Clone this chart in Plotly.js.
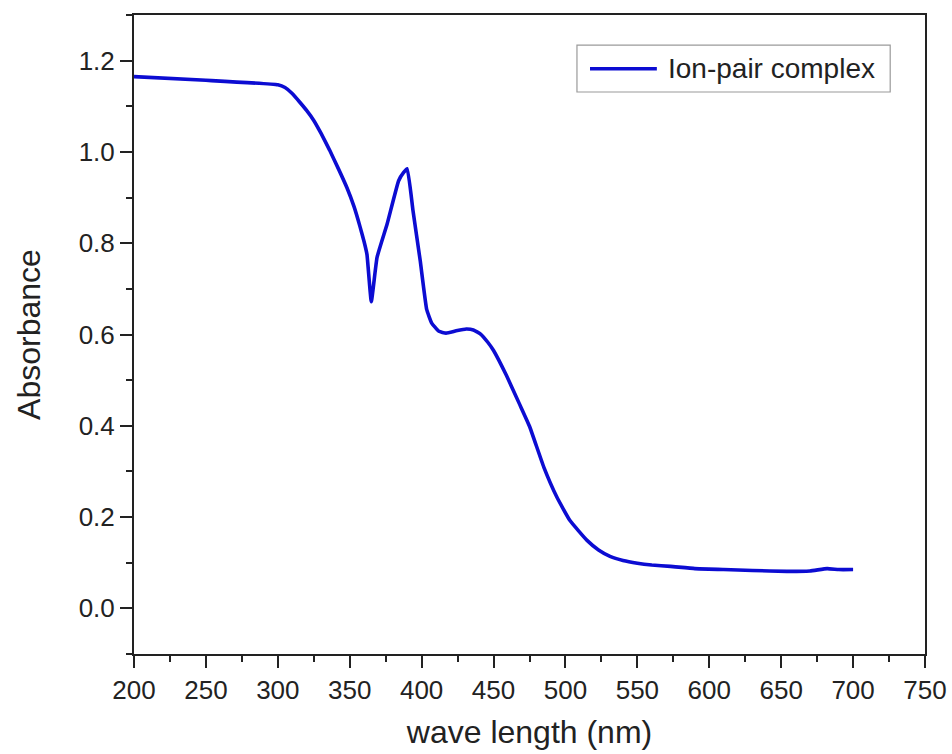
<!DOCTYPE html>
<html>
<head>
<meta charset="utf-8">
<script src="https://cdn.plot.ly/plotly-3.0.1.min.js"></script>
<style>
  html, body { margin: 0; padding: 0; background: #fff; }
  #chart { width: 952px; height: 754px; }
</style>
</head>
<body>
<div id="chart"></div>
<script>
// UV-Vis absorption spectrum of the ion-pair complex
const seriesName = 'Ion-pair complex';

const wavelength = [200, 250, 300, 305, 310, 315, 320, 325, 330, 336, 342, 348, 353,
  357, 360, 362, 365, 369, 376, 384, 387.5, 390, 394, 399, 403.5, 407, 412, 417,
  424, 431, 436, 441, 446, 450, 459, 468, 475, 485, 494, 503, 515, 523, 531, 540,
  550, 560, 573, 590, 610, 630, 654, 670, 682, 690, 700];

const absorbance = [1.165, 1.157, 1.147, 1.141, 1.128, 1.110, 1.091, 1.069, 1.041,
  1.004, 0.964, 0.922, 0.880, 0.838, 0.803, 0.775, 0.672, 0.769, 0.842, 0.937,
  0.955, 0.963, 0.871, 0.762, 0.655, 0.625, 0.607, 0.603, 0.608, 0.612, 0.610,
  0.601, 0.583, 0.565, 0.510, 0.448, 0.399, 0.309, 0.244, 0.193, 0.149, 0.128,
  0.114, 0.105, 0.099, 0.095, 0.092, 0.087, 0.085, 0.083, 0.081, 0.082, 0.087,
  0.085, 0.085];

const xTicks = [200, 250, 300, 350, 400, 450, 500, 550, 600, 650, 700, 750];
const yTicks = [0.0, 0.2, 0.4, 0.6, 0.8, 1.0, 1.2];

const lineColor = '#0c0cd2';
const axisColor = '#222222';
const fontFamily = '"Liberation Sans", Arial, sans-serif';

const trace = {
  x: wavelength,
  y: absorbance,
  type: 'scatter',
  mode: 'lines',
  name: seriesName,
  line: { color: lineColor, width: 3.6, shape: 'spline', smoothing: 0.35 },
  showlegend: false,
  hoverinfo: 'x+y'
};

const axisCommon = {
  showline: true,
  linecolor: axisColor,
  linewidth: 2,
  mirror: true,
  ticks: 'outside',
  ticklen: 12,
  tickwidth: 2,
  tickcolor: axisColor,
  showgrid: false,
  zeroline: false,
  tickfont: { family: fontFamily, size: 26, color: axisColor },
  minor: { ticks: 'outside', ticklen: 6, tickwidth: 2, tickcolor: axisColor, showgrid: false }
};

const layout = {
  width: 952,
  height: 754,
  margin: { l: 134, r: 27, t: 15, b: 100 },
  paper_bgcolor: '#ffffff',
  plot_bgcolor: '#ffffff',
  font: { family: fontFamily, color: axisColor },
  xaxis: Object.assign({}, axisCommon, {
    range: [200, 750],
    tickmode: 'array',
    tickvals: xTicks,
    ticktext: xTicks.map(String),
    minor: Object.assign({}, axisCommon.minor, { tickmode: 'linear', tick0: 225, dtick: 50 }),
    title: { text: 'wave length (nm)', font: { family: fontFamily, size: 32, color: axisColor }, standoff: 16 }
  }),
  yaxis: Object.assign({}, axisCommon, {
    range: [-0.1, 1.3],
    tickmode: 'array',
    tickvals: yTicks,
    ticktext: yTicks.map(v => v.toFixed(1)),
    minor: Object.assign({}, axisCommon.minor, { tickmode: 'linear', tick0: 0.1, dtick: 0.2 }),
    title: { text: 'Absorbance', font: { family: fontFamily, size: 32, color: axisColor }, standoff: 28 }
  }),
  // legend box with sample line and label
  shapes: [
    { type: 'rect', xref: 'paper', yref: 'paper', x0: 0.560, x1: 0.956, y0: 0.8795, y1: 0.953,
      line: { color: '#9a9a9a', width: 1.2 }, fillcolor: 'rgba(255,255,255,0)' },
    { type: 'line', xref: 'paper', yref: 'paper', x0: 0.5765, x1: 0.661, y0: 0.916, y1: 0.916,
      line: { color: lineColor, width: 3.6 } }
  ],
  annotations: [
    { xref: 'paper', yref: 'paper', x: 0.6726, y: 0.916, xanchor: 'left', yanchor: 'middle',
      text: seriesName, showarrow: false,
      font: { family: fontFamily, size: 28, color: axisColor } }
  ]
};

Plotly.newPlot('chart', [trace], layout, { staticPlot: true, displayModeBar: false });
</script>
</body>
</html>
